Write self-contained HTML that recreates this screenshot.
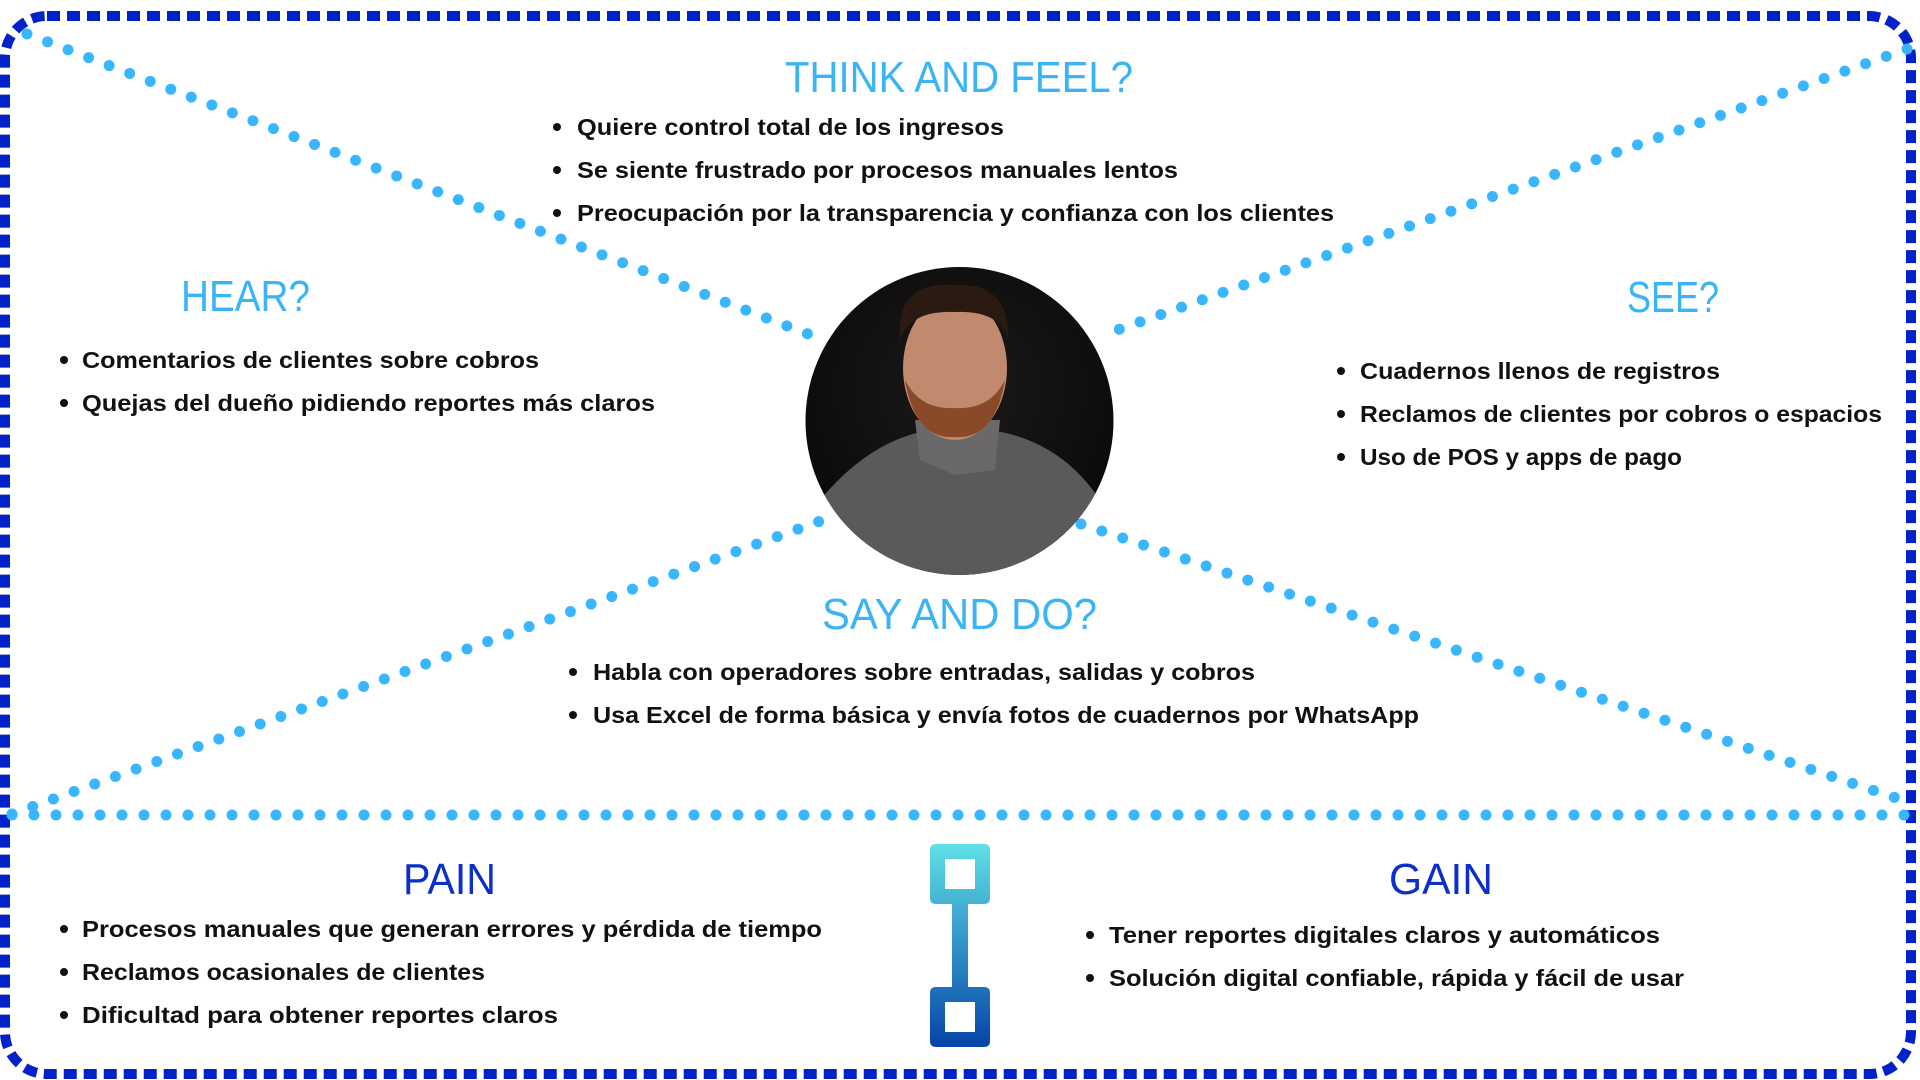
<!DOCTYPE html>
<html><head><meta charset="utf-8"><style>
html,body{margin:0;padding:0;background:#fff;width:1920px;height:1080px;overflow:hidden}
svg{display:block}
.b{font-family:"Liberation Sans",sans-serif;font-weight:bold;font-size:23px;fill:#111}
.t{font-family:"Liberation Sans",sans-serif;font-size:44px;fill:#3ab4f5}
.d{font-family:"Liberation Sans",sans-serif;font-size:44px;fill:#0b2fc8}
</style></head><body>
<svg width="1920" height="1080" viewBox="0 0 1920 1080" xmlns="http://www.w3.org/2000/svg">
<defs>
<linearGradient id="ig" x1="0" y1="0" x2="0" y2="1"><stop offset="0" stop-color="#5fe0e6"/><stop offset="1" stop-color="#0544a8"/></linearGradient>
<clipPath id="cc"><circle cx="959.5" cy="421" r="154"/></clipPath>
<radialGradient id="bg" cx="0.5" cy="0.4" r="0.6"><stop offset="0" stop-color="#1c1a19"/><stop offset="1" stop-color="#0a0909"/></radialGradient>
</defs>
<rect x="5" y="16" width="1906" height="1058" rx="42" fill="none" stroke="#0022c8" stroke-width="10" stroke-dasharray="13 7"/>
<g stroke="#38b6ff" stroke-width="11" stroke-linecap="round" stroke-dasharray="0 22" fill="none">
<line x1="27" y1="34" x2="808" y2="334"/>
<line x1="1907" y1="49" x2="1106" y2="334"/>
<line x1="12" y1="814" x2="823" y2="520"/>
<line x1="1081" y1="524" x2="1908" y2="802"/>
<line x1="12" y1="815" x2="1910" y2="815"/>
</g>
<g clip-path="url(#cc)">
<rect x="800" y="260" width="320" height="320" fill="url(#bg)"/>
<path d="M820 500 Q870 440 930 430 L990 430 Q1060 440 1100 500 L1110 580 L810 580 Z" fill="#5b5a5a"/>
<path d="M915 420 L1000 420 L995 470 L955 475 L920 460 Z" fill="#6a6868"/>
<ellipse cx="955" cy="368" rx="52" ry="72" fill="#c08a6e"/>
<path d="M905 380 Q915 440 955 437 Q995 440 1005 380 Q990 410 955 408 Q920 410 905 380Z" fill="#8a4a2a"/>
<path d="M900 340 Q895 280 955 285 Q1010 282 1008 340 Q1000 310 955 312 Q910 310 900 340Z" fill="#2a1a12"/>
</g>
<text class="t" x="785" y="92" textLength="348" lengthAdjust="spacingAndGlyphs">THINK AND FEEL?</text>
<text class="t" x="181" y="311" textLength="129" lengthAdjust="spacingAndGlyphs">HEAR?</text>
<text class="t" x="1627" y="312" textLength="92" lengthAdjust="spacingAndGlyphs">SEE?</text>
<text class="t" x="822" y="629" textLength="275" lengthAdjust="spacingAndGlyphs">SAY AND DO?</text>
<text class="d" x="403" y="894" textLength="93" lengthAdjust="spacingAndGlyphs">PAIN</text>
<text class="d" x="1389" y="894" textLength="104" lengthAdjust="spacingAndGlyphs">GAIN</text>
<g fill="#111">
<circle cx="557" cy="127" r="4"/><circle cx="557" cy="170" r="4"/><circle cx="557" cy="213" r="4"/>
<circle cx="64" cy="360" r="4"/><circle cx="64" cy="403" r="4"/>
<circle cx="1341" cy="371" r="4"/><circle cx="1341" cy="414" r="4"/><circle cx="1341" cy="457" r="4"/>
<circle cx="573" cy="672" r="4"/><circle cx="573" cy="715" r="4"/>
<circle cx="64" cy="929" r="4"/><circle cx="64" cy="972" r="4"/><circle cx="64" cy="1015" r="4"/>
<circle cx="1090" cy="935" r="4"/><circle cx="1090" cy="978" r="4"/>
</g>
<text class="b" x="577" y="135" textLength="427" lengthAdjust="spacingAndGlyphs">Quiere control total de los ingresos</text>
<text class="b" x="577" y="178" textLength="601" lengthAdjust="spacingAndGlyphs">Se siente frustrado por procesos manuales lentos</text>
<text class="b" x="577" y="221" textLength="757" lengthAdjust="spacingAndGlyphs">Preocupación por la transparencia y confianza con los clientes</text>
<text class="b" x="82" y="368" textLength="457" lengthAdjust="spacingAndGlyphs">Comentarios de clientes sobre cobros</text>
<text class="b" x="82" y="411" textLength="573" lengthAdjust="spacingAndGlyphs">Quejas del dueño pidiendo reportes más claros</text>
<text class="b" x="1360" y="379" textLength="360" lengthAdjust="spacingAndGlyphs">Cuadernos llenos de registros</text>
<text class="b" x="1360" y="422" textLength="522" lengthAdjust="spacingAndGlyphs">Reclamos de clientes por cobros o espacios</text>
<text class="b" x="1360" y="465" textLength="322" lengthAdjust="spacingAndGlyphs">Uso de POS y apps de pago</text>
<text class="b" x="593" y="680" textLength="662" lengthAdjust="spacingAndGlyphs">Habla con operadores sobre entradas, salidas y cobros</text>
<text class="b" x="593" y="723" textLength="826" lengthAdjust="spacingAndGlyphs">Usa Excel de forma básica y envía fotos de cuadernos por WhatsApp</text>
<text class="b" x="82" y="937" textLength="740" lengthAdjust="spacingAndGlyphs">Procesos manuales que generan errores y pérdida de tiempo</text>
<text class="b" x="82" y="980" textLength="403" lengthAdjust="spacingAndGlyphs">Reclamos ocasionales de clientes</text>
<text class="b" x="82" y="1023" textLength="476" lengthAdjust="spacingAndGlyphs">Dificultad para obtener reportes claros</text>
<text class="b" x="1109" y="943" textLength="551" lengthAdjust="spacingAndGlyphs">Tener reportes digitales claros y automáticos</text>
<text class="b" x="1109" y="986" textLength="575" lengthAdjust="spacingAndGlyphs">Solución digital confiable, rápida y fácil de usar</text>
<g fill="url(#ig)">
<path fill-rule="evenodd" d="M936 844 H984 Q990 844 990 850 V898 Q990 904 984 904 H968 V987 H984 Q990 987 990 993 V1041 Q990 1047 984 1047 H936 Q930 1047 930 1041 V993 Q930 987 936 987 H952 V904 H936 Q930 904 930 898 V850 Q930 844 936 844 Z M945 859 V889 H975 V859 Z M945 1002 V1032 H975 V1002 Z"/>
</g>
</svg>
</body></html>
